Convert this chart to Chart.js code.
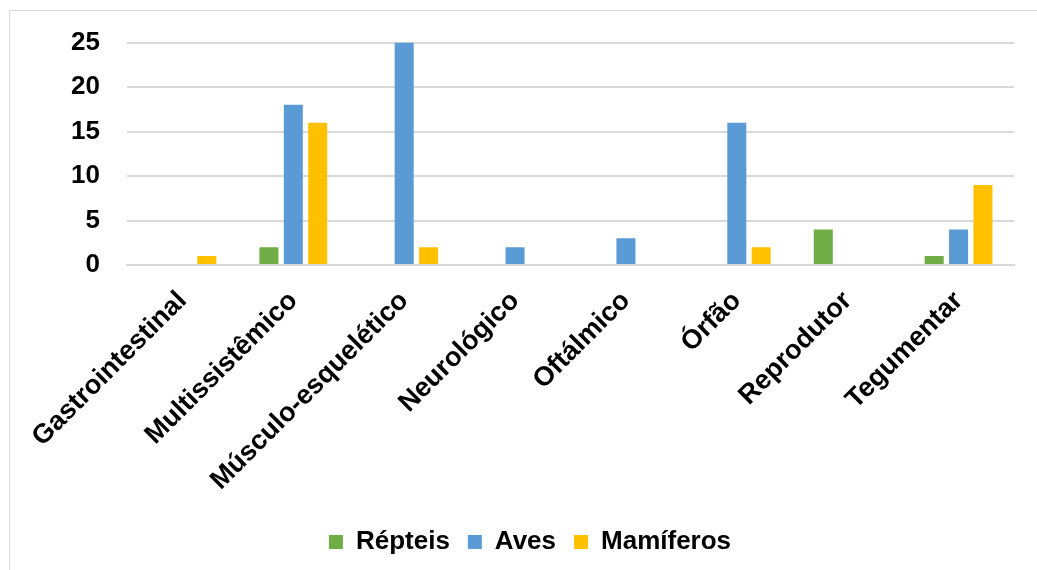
<!DOCTYPE html>
<html>
<head>
<meta charset="utf-8">
<script src="https://cdn.jsdelivr.net/npm/chart.js@4"></script>
<style>
  html, body { margin: 0; padding: 0; background: #ffffff; overflow: hidden; }
  #frame { position: absolute; left: 9px; top: 10px; width: 1100px; height: 700px; border: 1px solid #d9d9d9; }
  #chart { position: absolute; left: 0; top: 0; }
</style>
</head>
<body>
<div id="frame"></div>
<canvas id="chart" width="1037" height="570"></canvas>
<script>

// ==========================
// DATA
// ==========================

const categories = ["Gastrointestinal","Multissistêmico","Músculo-esquelético","Neurológico","Oftálmico","Órfão","Reprodutor","Tegumentar"];

const repteis   = [0, 2, 0, 0, 0, 0, 4, 1];
const aves      = [0, 18, 25, 2, 3, 16, 0, 4];
const mamiferos = [1, 16, 2, 0, 0, 2, 0, 9];

const yTicks = [0, 5, 10, 15, 20, 25];

// ==========================
// CHART
// ==========================

const font = { family: "'Liberation Sans', Arial, sans-serif", size: 26, weight: "bold" };
const xFont = { family: "'Liberation Sans', Arial, sans-serif", size: 27, weight: "bold" };

new Chart(document.getElementById("chart"), {

    type: "bar",

    data: {

        labels: categories,

        datasets: [
            { label: "Répteis",   data: repteis,   backgroundColor: "#70AD47" },
            { label: "Aves",      data: aves,      backgroundColor: "#5B9BD5" },
            { label: "Mamíferos", data: mamiferos, backgroundColor: "#FFC000" }
        ]

    },

    options: {

        responsive: false,
        animation: false,
        barPercentage: 0.78,
        categoryPercentage: 0.66,

        layout: {
            padding: { left: 46, right: 23, top: 40, bottom: 5 }
        },

        plugins: {
            tooltip: { enabled: false },
            legend: {
                position: "bottom",
                labels: {
                    color: "#000000",
                    font: font,
                    boxWidth: 14,
                    boxHeight: 14,
                    padding: 18
                }
            }
        },

        scales: {

            x: {
                grid: { display: false, drawTicks: false },
                border: { display: true, color: "#d9d9d9", width: 2 },
                ticks: {
                    color: "#000000",
                    font: xFont,
                    autoSkip: false,
                    maxRotation: 45,
                    minRotation: 45,
                    padding: 20
                },
                afterFit: function(scale){ scale.height = 246; }
            },

            y: {
                min: 0,
                max: 25,
                grid: { color: "#d9d9d9", lineWidth: 2, drawTicks: false },
                border: { display: false },
                ticks: {
                    color: "#000000",
                    font: font,
                    padding: 27,
                    callback: function(value){ return yTicks.includes(value) ? value : null; },
                    stepSize: 5
                },
                afterFit: function(scale){ scale.width = 81; }
            }

        }

    }

});

</script>
</body>
</html>
